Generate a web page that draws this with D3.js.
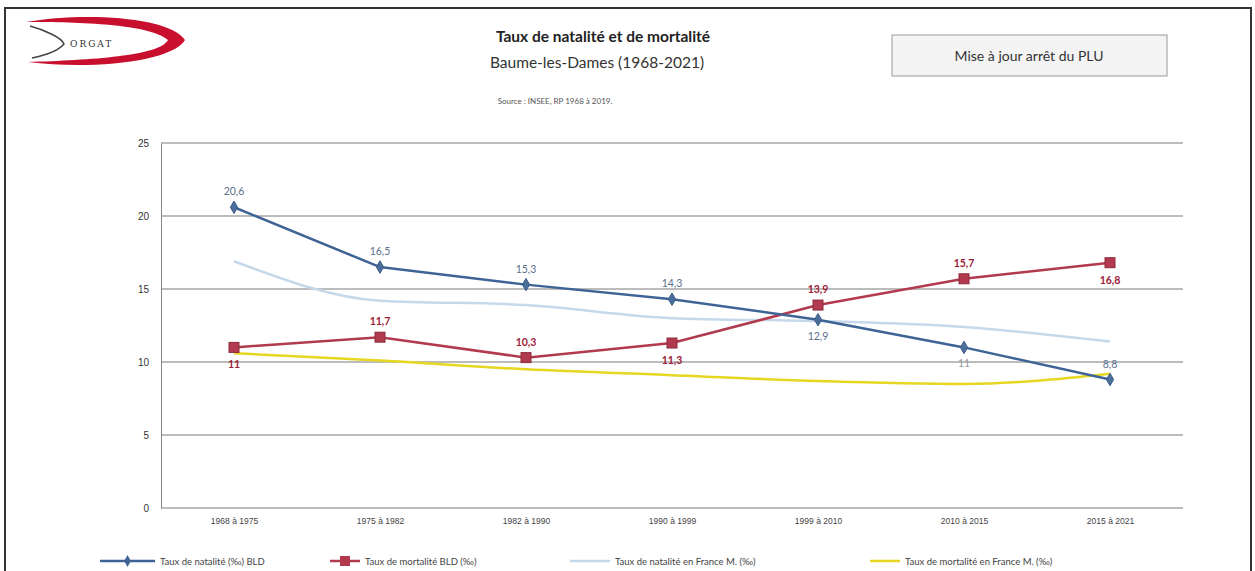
<!DOCTYPE html>
<html>
<head>
<meta charset="utf-8">
<script src="https://cdn.jsdelivr.net/npm/d3@7"></script>
<style>
  body { margin: 0; background: #fff; }
  svg { display: block; font-family: Lato, "Open Sans", sans-serif; }
</style>
</head>
<body>
<div id="chart"></div>
<script>
// Periods and series (‰)
const periods = ["1968 à 1975", "1975 à 1982", "1982 à 1990", "1990 à 1999", "1999 à 2010", "2010 à 2015", "2015 à 2021"];
const natBLD = [20.6, 16.5, 15.3, 14.3, 12.9, 11, 8.8];
const mortBLD = [11, 11.7, 10.3, 11.3, 13.9, 15.7, 16.8];
const natFrance = [16.9, 14.2, 13.9, 13.0, 12.8, 12.4, 11.4];
const mortFrance = [10.6, 10.1, 9.5, 9.1, 8.7, 8.5, 9.2];
const yTicks = [0, 5, 10, 15, 20, 25];

// label placement per point: -1 above, 1 below
const natLabelPos = [-1, -1, -1, -1, 1, 1, -1];
const mortLabelPos = [1, -1, -1, 1, -1, -1, 1];

const W = 1255, H = 571;
const svg = d3.select("#chart").append("svg").attr("width", W).attr("height", H);

// outer frame
svg.append("rect").attr("x", 5).attr("y", 8).attr("width", 1246).attr("height", 570)
    .attr("fill", "#fff").attr("stroke", "#333").attr("stroke-width", 2);

// logo (rough swoosh)
const logo = svg.append("g");
logo.append("path")
    .attr("d", "M26,22 C80,12 170,16 185,40 C172,62 90,70 28,62 C90,60 160,56 168,40 C150,24 80,22 26,22 Z")
    .attr("fill", "#c8102e");
logo.append("path")
    .attr("d", "M30,26 C45,30 62,38 64,44 C57,52 42,56 32,58")
    .attr("fill", "none").attr("stroke", "#444").attr("stroke-width", 1.5);
logo.append("text").attr("x", 70).attr("y", 47).attr("font-size", 9)
    .attr("font-family", "DejaVu Serif, serif").attr("letter-spacing", 2).attr("fill", "#333").text("ORGAT");

// titles
svg.append("text").attr("x", 603).attr("y", 42).attr("text-anchor", "middle")
    .attr("font-size", 15.5).attr("font-weight", "bold").attr("fill", "#222").text("Taux de natalité et de mortalité");
svg.append("text").attr("x", 597).attr("y", 68).attr("text-anchor", "middle")
    .attr("font-size", 15.5).attr("fill", "#333").text("Baume-les-Dames (1968-2021)");
svg.append("text").attr("x", 555).attr("y", 104).attr("text-anchor", "middle")
    .attr("font-size", 8).attr("fill", "#555").text("Source : INSEE, RP 1968 à 2019.");

// update box
svg.append("rect").attr("x", 892).attr("y", 35).attr("width", 275).attr("height", 41)
    .attr("fill", "#f4f4f4").attr("stroke", "#999").attr("stroke-width", 1);
svg.append("text").attr("x", 1029).attr("y", 61).attr("text-anchor", "middle")
    .attr("font-size", 14).attr("fill", "#333").text("Mise à jour arrêt du PLU");

// plot area
const plotLeft = 161, plotRight = 1183, plotTop = 143, plotBottom = 508;
const x = d3.scalePoint().domain(periods).range([plotLeft, plotRight]).padding(0.5);
const y = d3.scaleLinear().domain([0, 25]).range([plotBottom, plotTop]);

// gridlines
svg.append("g").selectAll("line").data(yTicks).join("line")
    .attr("x1", plotLeft).attr("x2", plotRight)
    .attr("y1", d => y(d)).attr("y2", d => y(d))
    .attr("stroke", "#a6a6a6").attr("stroke-width", 1.3);

// y axis
const yAxis = svg.append("g").attr("transform", `translate(${plotLeft},0)`)
    .call(d3.axisLeft(y).tickValues(yTicks).tickSize(0).tickPadding(12));
yAxis.select(".domain").attr("stroke", "#888");
yAxis.selectAll("text").attr("font-size", 10).attr("fill", "#333");

// x axis
const xAxis = svg.append("g").attr("transform", `translate(0,${plotBottom})`)
    .call(d3.axisBottom(x).tickSize(0).tickPadding(10));
xAxis.select(".domain").remove();
xAxis.selectAll("text").attr("font-size", 8.5).attr("fill", "#444");

const fmt = v => String(v).replace(".", ",");
const mkData = arr => periods.map((p, i) => ({ p, v: arr[i], i }));

const smooth = d3.line().x(d => x(d.p)).y(d => y(d.v)).curve(d3.curveMonotoneX);

// France series (smoothed, no markers)
svg.append("path").datum(mkData(natFrance)).attr("d", smooth)
    .attr("fill", "none").attr("stroke", "#c6d9ea").attr("stroke-width", 2.5);
svg.append("path").datum(mkData(mortFrance)).attr("d", smooth)
    .attr("fill", "none").attr("stroke", "#e6d722").attr("stroke-width", 2.5);

// BLD series
const straight = d3.line().x(d => x(d.p)).y(d => y(d.v));
svg.append("path").datum(mkData(mortBLD)).attr("d", straight)
    .attr("fill", "none").attr("stroke", "#b23a4e").attr("stroke-width", 2.5);
svg.append("path").datum(mkData(natBLD)).attr("d", straight)
    .attr("fill", "none").attr("stroke", "#3e6496").attr("stroke-width", 2.5);

svg.append("g").selectAll("rect").data(mkData(mortBLD)).join("rect")
    .attr("x", d => x(d.p) - 5).attr("y", d => y(d.v) - 5)
    .attr("width", 10).attr("height", 10)
    .attr("fill", "#b23a4e").attr("stroke", "#8e2a3c");
svg.append("g").selectAll("path").data(mkData(natBLD)).join("path")
    .attr("transform", d => `translate(${x(d.p)},${y(d.v)})`)
    .attr("d", d3.symbol(d3.symbolDiamond, 45))
    .attr("fill", "#4b6f9c").attr("stroke", "#3a5a85");

// data labels
svg.append("g").selectAll("text").data(mkData(natBLD)).join("text")
    .attr("x", d => x(d.p))
    .attr("y", d => y(d.v) + (natLabelPos[d.i] < 0 ? -12 : 20))
    .attr("text-anchor", "middle").attr("font-size", 10.5)
    .attr("fill", d => d.i === 5 ? "#999" : "#5a6f8e").text(d => fmt(d.v));
svg.append("g").selectAll("text").data(mkData(mortBLD)).join("text")
    .attr("x", d => x(d.p))
    .attr("y", d => y(d.v) + (mortLabelPos[d.i] < 0 ? -12 : 21))
    .attr("text-anchor", "middle").attr("font-size", 10.5).attr("font-weight", "bold")
    .attr("fill", "#9a2236").text(d => fmt(d.v));

// legend
const legendItems = [
    { name: "Taux de natalité (‰) BLD", color: "#3e6496", marker: "diamond", x: 100, len: 55 },
    { name: "Taux de mortalité BLD (‰)", color: "#b23a4e", marker: "square", x: 330, len: 30 },
    { name: "Taux de natalité en France M. (‰)", color: "#c6d9ea", marker: null, x: 570, len: 40 },
    { name: "Taux de mortalité en France M. (‰)", color: "#e6d722", marker: null, x: 870, len: 30 }
];
const lg = svg.append("g").selectAll("g").data(legendItems).join("g")
    .attr("transform", d => `translate(${d.x},561)`);
lg.append("line").attr("x1", 0).attr("x2", d => d.len)
    .attr("stroke", d => d.color).attr("stroke-width", 2.5);
lg.filter(d => d.marker === "diamond").append("path")
    .attr("transform", d => `translate(${d.len / 2},0)`).attr("d", d3.symbol(d3.symbolDiamond, 40)).attr("fill", d => d.color);
lg.filter(d => d.marker === "square").append("rect")
    .attr("x", d => d.len / 2 - 5).attr("y", -5).attr("width", 10).attr("height", 10).attr("fill", d => d.color);
lg.append("text").attr("x", d => d.len + 5).attr("y", 3.5)
    .attr("font-size", 9.5).attr("fill", "#444").text(d => d.name);
</script>
</body>
</html>
